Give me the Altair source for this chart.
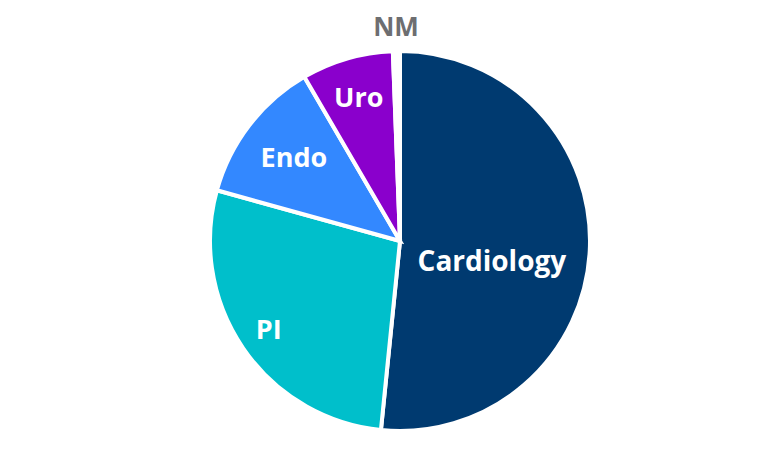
import altair as alt
import pandas as pd

categories = ["Cardiology", "PI", "Endo", "Uro", "NM"]
values = [51.6, 27.7, 12.3, 7.8, 0.6]
colors = ["#003A70", "#00BFCB", "#3388FF", "#8A00CC", "#FFFFFF"]

df = pd.DataFrame({"cat": categories, "val": values, "ord": list(range(len(categories)))})

W, H = 700, 400
theta = alt.Theta("val:Q", stack=True)
order = alt.Order("ord:Q", sort="ascending")

pie = alt.Chart(df).mark_arc(radius=190, stroke="white", strokeWidth=4).encode(
    theta=theta,
    order=order,
    color=alt.Color("cat:N", scale=alt.Scale(domain=categories, range=colors), legend=None),
)

def label_layer(name, radius, color="white", dx=0, dy=0, size=27):
    return alt.Chart(df).transform_calculate(
        lbl=f"datum.cat == '{name}' ? datum.cat : ''"
    ).mark_text(
        radius=radius, font="Open Sans", fontWeight="bold", fontSize=size, color=color,
        align="center", baseline="middle", dx=dx, dy=dy
    ).encode(theta=theta, order=order, text="lbl:N")

chart = alt.layer(
    pie,
    label_layer("PI", 159),
    label_layer("Endo", 134),
    label_layer("Uro", 148),
    label_layer("Cardiology", 95, dx=-3, dy=17, size=28),
    label_layer("NM", 213, color="#6D6E71", size=26),
).properties(
    width=W, height=H,
    autosize=alt.AutoSizeParams(type="none"),
    padding={"left": 42, "top": 33, "right": 0, "bottom": 0},
).configure_view(stroke=None)

chart.save("out.html", embed_options={"renderer": "svg", "actions": False})
